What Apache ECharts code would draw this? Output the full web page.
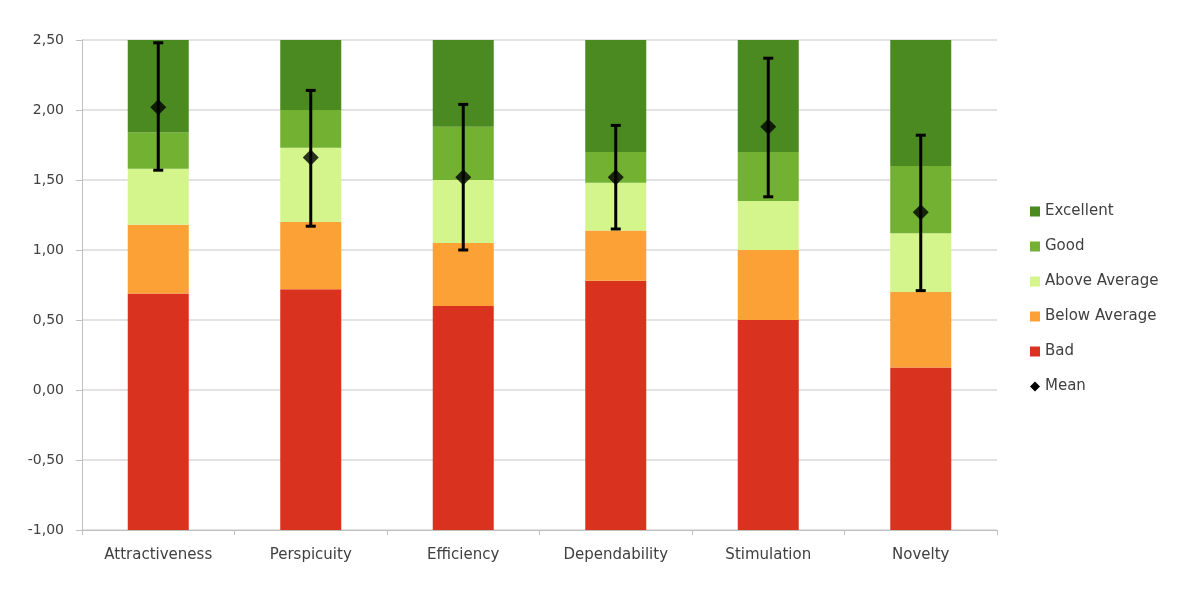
<!DOCTYPE html>
<html>
<head>
<meta charset="utf-8">
<script src="https://cdn.jsdelivr.net/npm/echarts@6/dist/echarts.min.js"></script>
<style>
  html, body { margin: 0; padding: 0; background: #fff; }
  #main { width: 1203px; height: 597px; }
</style>
</head>
<body>
<div id="main"></div>
<script>
// scales
var categories = ['Attractiveness', 'Perspicuity', 'Efficiency', 'Dependability', 'Stimulation', 'Novelty'];
// benchmark upper limits of each band
var limitBad = [0.69, 0.72, 0.60, 0.78, 0.50, 0.16];
var limitBelow = [1.18, 1.20, 1.05, 1.14, 1.00, 0.70];
var limitAbove = [1.58, 1.73, 1.50, 1.48, 1.35, 1.12];
var limitGood = [1.84, 2.00, 1.88, 1.70, 1.70, 1.60];
var limitExcellent = [2.50, 2.50, 2.50, 2.50, 2.50, 2.50];
// measured means and confidence intervals
var means = [2.02, 1.66, 1.52, 1.52, 1.88, 1.27];
var ciLow = [1.57, 1.17, 1.00, 1.15, 1.38, 0.71];
var ciHigh = [2.48, 2.14, 2.04, 1.89, 2.37, 1.82];

var axisMin = -1.0;
var axisMax = 2.5;

function diff(upper, lower) {
  return upper.map(function (v, i) { return +(v - lower[i]).toFixed(2); });
}

var bands = [
  { name: 'Bad', color: '#d9321f', data: limitBad },
  { name: 'Below Average', color: '#fba135', data: diff(limitBelow, limitBad) },
  { name: 'Above Average', color: '#d3f58b', data: diff(limitAbove, limitBelow) },
  { name: 'Good', color: '#72b132', data: diff(limitGood, limitAbove) },
  { name: 'Excellent', color: '#4b8a21', data: diff(limitExcellent, limitGood) }
];

var myChart = echarts.init(document.getElementById('main'));

var series = bands.map(function (b) {
  return {
    name: b.name,
    type: 'bar',
    stack: 'bench',
    barWidth: '40%',
    itemStyle: { color: b.color },
    data: b.data
  };
});

var errData = categories.map(function (c, i) { return [i, ciLow[i], ciHigh[i]]; });

series.push({
  name: 'Mean',
  type: 'custom',
  z: 5,
  renderItem: function (params, api) {
    var x = api.value(0);
    var lo = api.coord([x, api.value(1)]);
    var hi = api.coord([x, api.value(2)]);
    var cap = 5;
    var style = { stroke: '#000', lineWidth: 3 };
    return {
      type: 'group',
      children: [
        { type: 'line', shape: { x1: hi[0], y1: hi[1], x2: lo[0], y2: lo[1] }, style: style },
        { type: 'line', shape: { x1: hi[0] - cap, y1: hi[1], x2: hi[0] + cap, y2: hi[1] }, style: style },
        { type: 'line', shape: { x1: lo[0] - cap, y1: lo[1], x2: lo[0] + cap, y2: lo[1] }, style: style }
      ]
    };
  },
  encode: { x: 0, y: [1, 2] },
  data: errData
});

series.push({
  name: 'Mean',
  type: 'scatter',
  symbol: 'diamond',
  symbolSize: 16,
  z: 6,
  itemStyle: { color: '#000' },
  data: means
});

var option = {
  backgroundColor: '#fff',
  animation: false,
  textStyle: { fontFamily: 'DejaVu Sans' },
  grid: { left: 82, right: 206, top: 40, bottom: 67 },
  legend: {
    orient: 'vertical',
    left: 1025,
    top: 199,
    itemWidth: 10,
    itemHeight: 10,
    itemGap: 20,
    textStyle: { color: '#404040', fontSize: 15, fontFamily: 'DejaVu Sans' },
    data: [
      { name: 'Excellent', icon: 'rect' },
      { name: 'Good', icon: 'rect' },
      { name: 'Above Average', icon: 'rect' },
      { name: 'Below Average', icon: 'rect' },
      { name: 'Bad', icon: 'rect' },
      { name: 'Mean', icon: 'diamond', itemStyle: { color: '#000' } }
    ]
  },
  xAxis: {
    type: 'category',
    data: categories,
    axisLine: { onZero: false, lineStyle: { color: '#bfbfbf' } },
    axisTick: { show: true, length: 5, lineStyle: { color: '#bfbfbf' } },
    axisLabel: { color: '#404040', fontSize: 15, margin: 18 }
  },
  yAxis: {
    type: 'value',
    min: axisMin,
    max: axisMax,
    interval: 0.5,
    startValue: axisMin,
    axisLine: { show: true, lineStyle: { color: '#bfbfbf' } },
    axisTick: { show: true, length: 6, lineStyle: { color: '#bfbfbf' } },
    splitLine: { lineStyle: { color: '#d9d9d9', width: 1.5 } },
    axisLabel: {
      color: '#404040',
      fontSize: 14,
      margin: 18,
      formatter: function (v) { return v.toFixed(2).replace('.', ','); }
    }
  },
  series: series
};

myChart.setOption(option);
</script>
</body>
</html>
